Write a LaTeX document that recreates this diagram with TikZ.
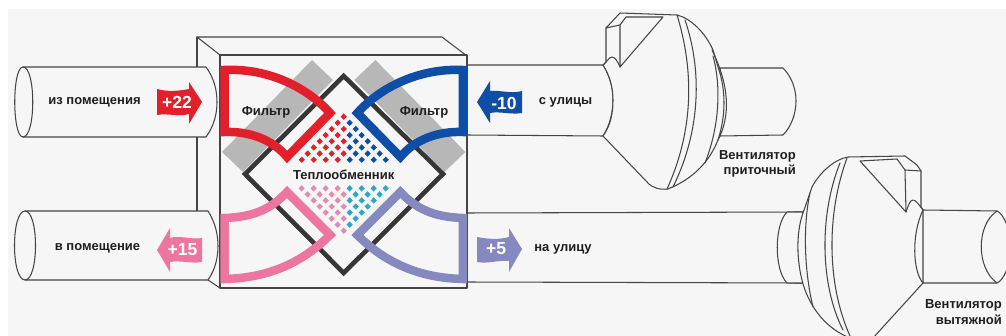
\documentclass[tikz,border=0pt]{standalone}
\usepackage{fontspec}
\setmainfont{Liberation Sans}
\definecolor{bgc}{HTML}{F6F6F6}
\definecolor{linec}{HTML}{454545}
\definecolor{grayc}{HTML}{B7B7B7}
\definecolor{darkc}{HTML}{363636}
\definecolor{redc}{HTML}{E2202B}
\definecolor{bluec}{HTML}{0F4EA6}
\definecolor{pinkc}{HTML}{EC76A0}
\definecolor{purc}{HTML}{8589C0}
\definecolor{pinkd}{HTML}{E58BB0}
\definecolor{cyand}{HTML}{2CA6C9}
\definecolor{txtc}{HTML}{1E1E1E}
\tikzset{
  ln/.style={draw=linec,line width=1.05pt,line join=round,line cap=round},
  body/.style={ln,fill=bgc},
  duct/.style={line width=8.5pt,line join=miter,miter limit=10},
  lab/.style={font=\bfseries\fontsize{13}{15}\selectfont,text=txtc,inner sep=0pt},
  num/.style={font=\bfseries\fontsize{17.5}{19}\selectfont,text=white,inner sep=0pt},
}
\newcommand{\dm}[3]{\fill[#3] (#1-3.1,#2) -- (#1,#2-3.2) -- (#1+3.1,#2) -- (#1,#2+3.2) -- cycle;}
\begin{document}
\begin{tikzpicture}[x=1pt,y=-1pt]
\useasboundingbox (0,0) rectangle (1006,336);
\clip (0,0) rectangle (1006,336);
\fill[white] (0,0) rectangle (1006,336);
\fill[bgc] (8,9) rectangle (1006,336);
% box back
\draw[ln] (220,55) -- (197,37) -- (442,37) -- (467,56);
\draw[ln] (197,37) -- (197,212);
\draw[ln] (208,280) -- (220,288);
% left ducts
\draw[body] (23,67) -- (206,67) .. controls (214,78) and (217,90) .. (217,102) .. controls (217,114) and (214,126) .. (206,137) -- (23,137) .. controls (12,137) and (12,67) .. (23,67) -- cycle;
\draw[ln] (23,67) .. controls (36,67) and (36,137) .. (23,137);
\draw[body] (25,211) -- (208,211) .. controls (215,222) and (218,234) .. (218,246) .. controls (218,258) and (215,270) .. (208,280) -- (25,280) .. controls (11,280) and (11,211) .. (25,211) -- cycle;
\draw[ln] (25,211) .. controls (39,211) and (39,280) .. (25,280);
% right upper duct
\draw[body] (467,65) -- (603,65) .. controls (610,76) and (613,88) .. (613,100) .. controls (613,112) and (610,125) .. (603,136) -- (467,135);
% right lower duct
\draw[ln] (467,213) -- (803,212);
\draw[ln] (467,282) -- (803,283);
% fan 1
\draw[body] (720,68) -- (783,68) .. controls (791,76) and (796,88) .. (796,101) .. controls (796,114) and (791,127) .. (783,135) -- (720,136) -- cycle;
\draw[body] (603,65) -- (606,62) -- (606,28) -- (620,13) -- (677,15) .. controls (690,18) and (705,32) .. (713,50) -- (718,67) .. controls (726,90) and (726,115) .. (718,140) .. controls (710,160) and (695,178) .. (668,189) .. controls (660,190) and (652,188) .. (647,182) -- (603,136) .. controls (611,125) and (613,112) .. (613,100) .. controls (613,88) and (610,76) .. (603,65) -- cycle;
\draw[ln] (712,50) .. controls (729,85) and (731,115) .. (718,140);
\draw[ln] (713,56) .. controls (721,85) and (720,125) .. (705,163);
\draw[ln] (677,15) .. controls (694,70) and (694,130) .. (667,189);
\draw[ln] (685,20) .. controls (702,70) and (701,130) .. (673,187);
\draw[ln] (603,65) .. controls (607,62) and (609,57) .. (612,57) .. controls (615,57) and (618,62) .. (620,67);
\draw[ln] (620,67) -- (620,25) -- (626,17) -- (663,17) -- (620,67);
\draw[ln] (606,28) -- (620,25);
% fan 2
\draw[body] (923,210) -- (997,211) .. controls (1003,213) and (1011,230) .. (1011,247) .. controls (1011,265) and (1003,281) .. (997,283) -- (923,283) -- cycle;
\draw[ln] (997,211) .. controls (976,225) and (976,268) .. (997,283);
\draw[body] (787,212) -- (803,212) -- (803,283) -- (787,283) .. controls (774,270) and (774,225) .. (787,212);
\draw[body] (923,210) -- (921,207) -- (921,171) -- (917,165) -- (905,156) -- (848,157) .. controls (835,159) and (820,172) .. (812,187) -- (803,213) .. controls (795,235) and (797,268) .. (805,290) .. controls (812,308) and (825,328) .. (850,338) -- (873,338) -- (923,283) .. controls (913,272) and (911,235) .. (923,210) -- cycle;
\draw[ln] (810,193) .. controls (803,225) and (804,270) .. (813,307);
\draw[ln] (847,158) .. controls (826,215) and (827,285) .. (850,336);
\draw[ln] (840,163) .. controls (819,215) and (820,285) .. (843,330);
\draw[ln] (923,210) .. controls (919,205) and (916,200) .. (913,200) .. controls (910,200) and (908,206) .. (906,212);
\draw[ln] (906,212) -- (905,170) -- (897,159) -- (860,161) -- (906,212);
\draw[ln] (905,170) -- (921,171);
% box front
\draw[ln] (220,55) rectangle (467,288);
% gray filters
\fill[grayc] (312,60) -- (333,80) -- (243,172) -- (222,152) -- cycle;
\fill[grayc] (375.4,60) -- (354.4,80) -- (444.4,172) -- (465.4,152) -- cycle;
% exchanger
\draw[darkc,line width=4.6pt,line join=miter] (343.7,76) -- (245,174) -- (343.7,273) -- (443,174) -- cycle;
% dots
\foreach \m/\ks in {0/0,1/1,2/{0,2},3/{1,3},4/{0,2,4},5/{1,3,5},6/{0,2,4,6},7/{1,3,5,7}}{
  \foreach \k in \ks {
    \dm{343.7-6*\k}{116.7+6.15*\m}{redc}
    \dm{343.7-6*\k}{230.7-6.05*\m}{pinkd}
  }
}
\foreach \m/\ks in {1/1,2/2,3/{1,3},4/{2,4},5/{1,3,5},6/{2,4,6},7/{1,3,5,7}}{
  \foreach \k in \ks {
    \dm{343.7+6*\k}{116.7+6.15*\m}{bluec}
    \dm{343.7+6*\k}{230.7-6.05*\m}{cyand}
  }
}
% coloured ducts
\draw[duct,draw=redc] (224.5,70) .. controls (265,68) and (305,85) .. (330,113) -- (287,157) .. controls (273,140) and (250,131) .. (224.5,132) -- cycle;
\draw[duct,draw=pinkc] (224.5,218) .. controls (255,217) and (272,208) .. (287,192) -- (330,235) .. controls (300,265) and (265,278) .. (224.5,279) -- cycle;
\begin{scope}[shift={(687.4,0)},xscale=-1]
\draw[duct,draw=bluec] (224.5,70) .. controls (265,68) and (305,85) .. (330,113) -- (287,157) .. controls (273,140) and (250,131) .. (224.5,132) -- cycle;
\draw[duct,draw=purc] (224.5,218) .. controls (255,217) and (272,208) .. (287,192) -- (330,235) .. controls (300,265) and (265,278) .. (224.5,279) -- cycle;
\end{scope}
% arrows
\fill[redc] (157,89) .. controls (168,92) and (178,91) .. (189,89) -- (189,82) -- (202,102) -- (189,124) -- (189,114) .. controls (178,117) and (168,113) .. (157,115) -- cycle;
\fill[pinkc] (202,238) .. controls (192,240) and (180,235) .. (170,238) -- (170,228) -- (157,250) -- (170,272) -- (170,262) .. controls (180,260) and (192,264) .. (202,262) -- cycle;
\fill[bluec] (522,91) .. controls (512,94) and (500,90) .. (490,91) -- (490,81) -- (477,102) -- (490,123) -- (490,113) .. controls (500,111) and (512,115) .. (522,113) -- cycle;
\fill[purc] (477,237) .. controls (488,239) and (498,240) .. (509,237) -- (509,228) -- (522,249) -- (509,272) -- (509,261) .. controls (498,260) and (488,264) .. (477,262) -- cycle;
% labels
\node[num] (n22) at (177,102) {+22};
\node[num] (n15) at (182.5,250) {+15};
\node[num] (n10) at (504,103) {-10};
\node[num] (n5) at (496,249) {+5};
\node[lab] (l1) at (94.5,102) {из помещения};
\node[lab] (l2) at (97.5,248) {в помещение};
\node[lab] (l3) at (565.5,102) {с улицы};
\node[lab] (l4) at (563,249) {на улицу};
\node[lab] (f1) at (266,112) {Фильтр};
\node[lab] (f2) at (424,112) {Фильтр};
\node[lab] (t) at (343.7,175) {Теплообменник};
\node[lab,anchor=east] (v1) at (796,156) {Вентилятор};
\node[lab,anchor=east] (v2) at (796,171) {приточный};
\node[lab,anchor=east] (v3) at (1002,305) {Вентилятор};
\node[lab,anchor=east] (v4) at (1002,320) {вытяжной};
\end{tikzpicture}
\end{document}
